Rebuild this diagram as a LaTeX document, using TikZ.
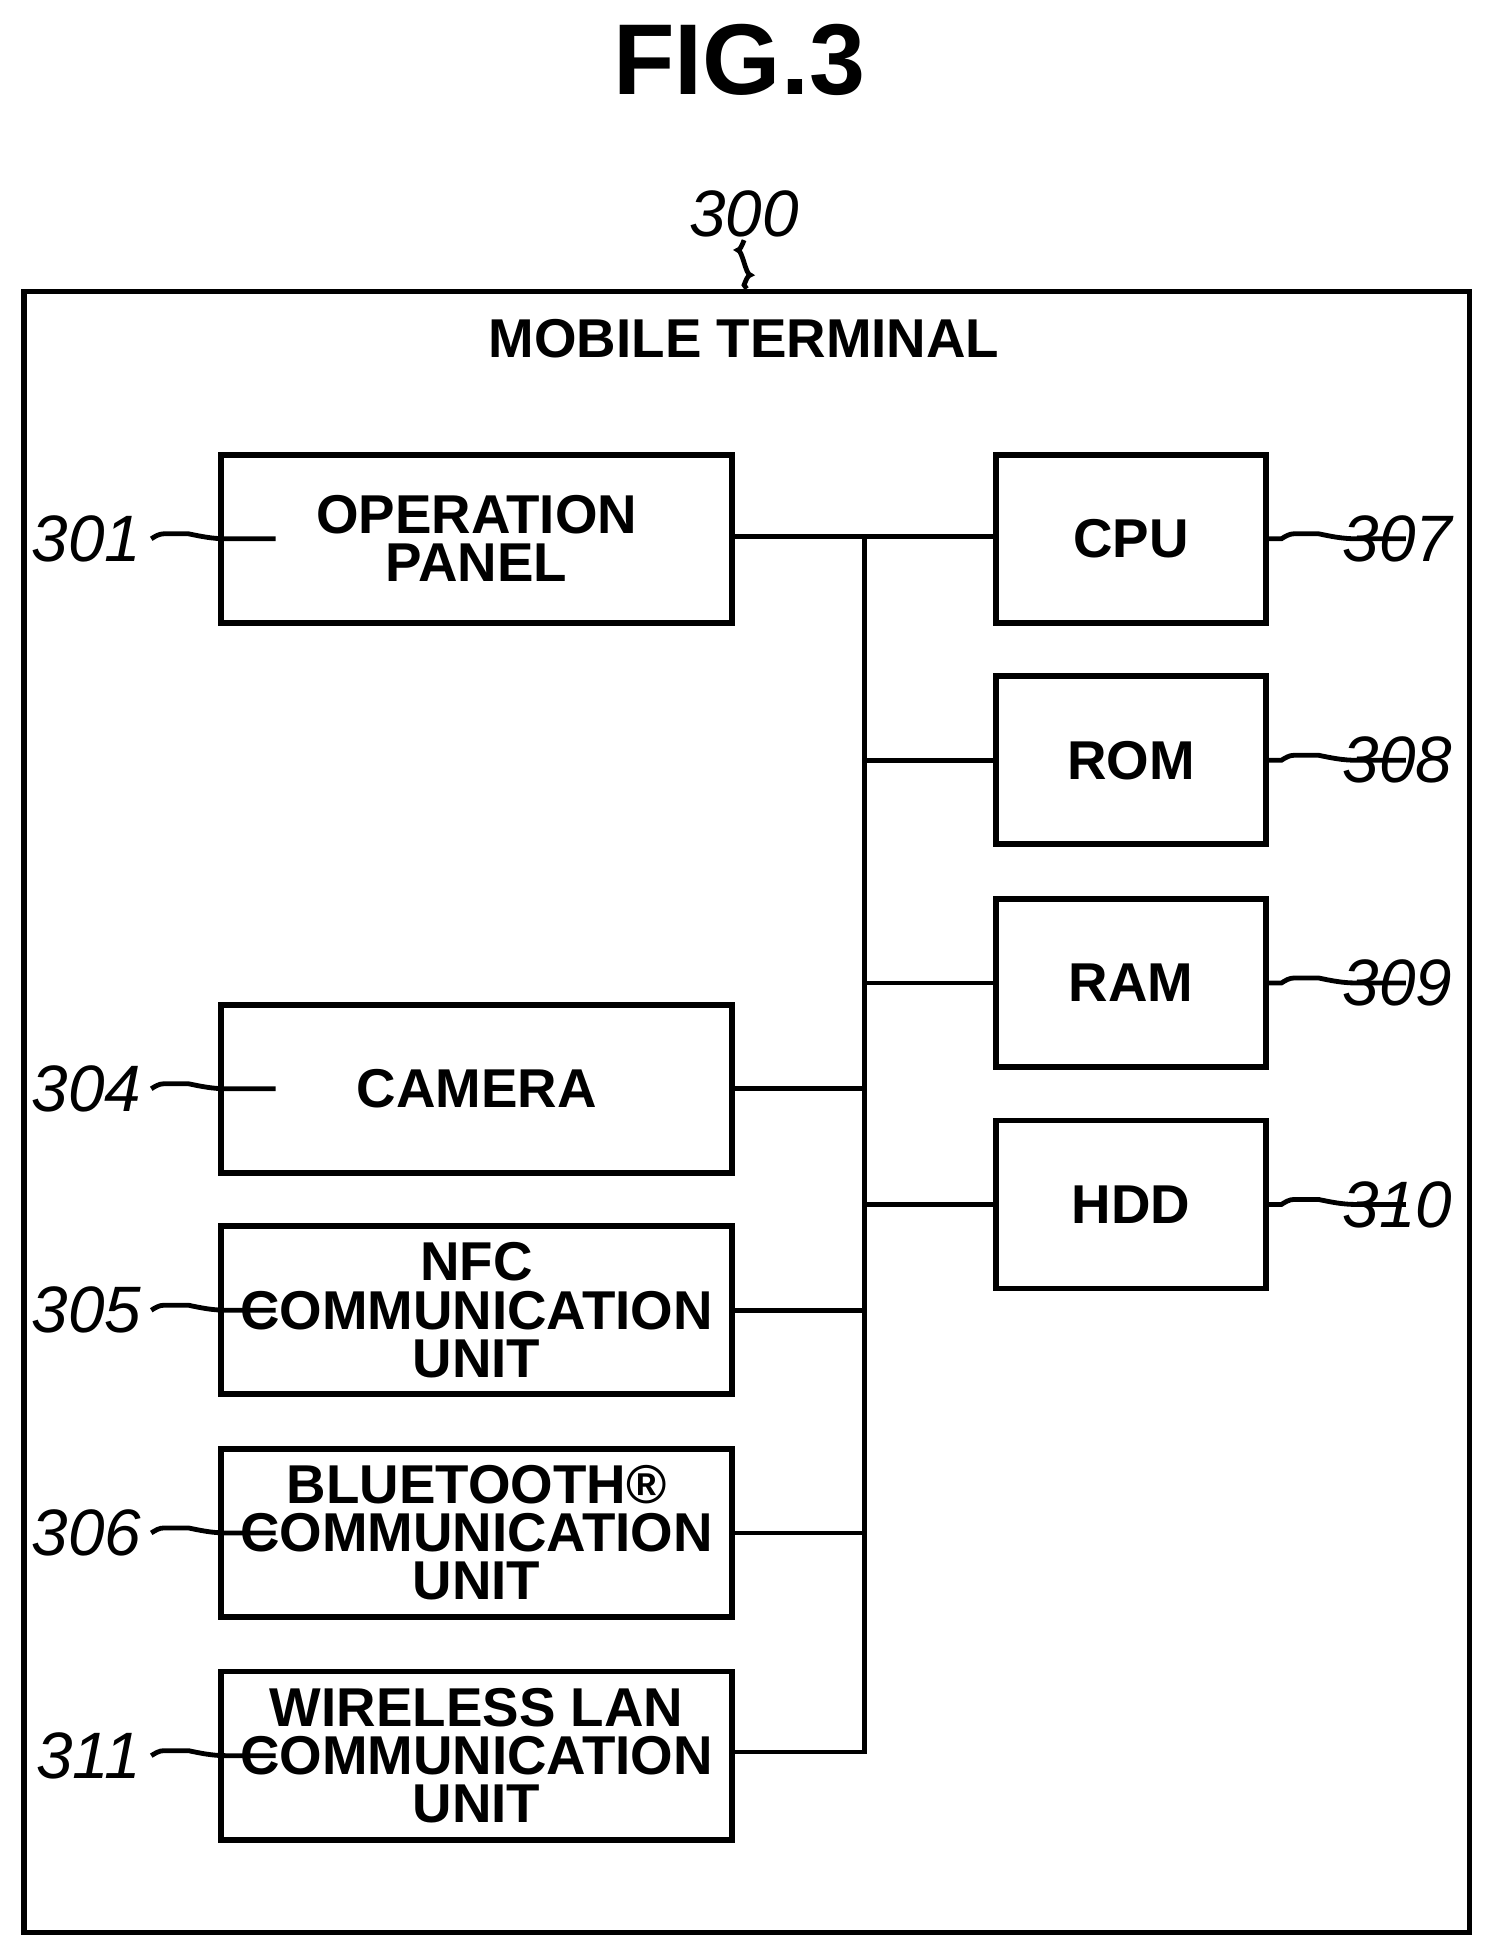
\documentclass[tikz,border=0pt]{standalone}
\usepackage{fontspec}
\setmainfont{Liberation Sans}
\begin{document}
\begin{tikzpicture}[x=0.01cm,y=-0.01cm,
 box/.style={draw,line width=1.3pt,minimum width=4.1cm,minimum height=1.35cm,align=center,font=\fontsize{12.5}{11}\selectfont\bfseries,inner sep=0pt},
 rbox/.style={box,minimum width=2.17cm},
 num/.style={font=\fontsize{15}{15}\selectfont\itshape,inner sep=1pt},
 ln/.style={line width=1.1pt}]
\useasboundingbox (0,0) rectangle (1196,1568);
\node[font=\fontsize{23}{23}\selectfont\bfseries] (fig) at (594,48) {FIG.3};
\node[draw,line width=1.3pt,minimum width=11.61cm,minimum height=13.18cm,anchor=north west] (mt) at (17,232) {};
\node[font=\fontsize{12.5}{13}\selectfont\bfseries] (mtl) at (598,272) {MOBILE TERMINAL};
\node[num] (n300) at (598,172) {300};
\draw[ln] (598,193) sin (593,201) cos (598,211) sin (603,221) cos (598,229) -- (mt.north);
\node[box] (op) at (383,433) {OPERATION\\PANEL};
\node[box] (cam) at (383,875) {CAMERA};
\node[box] (nfc) at (383,1053) {NFC\\COMMUNICATION\\UNIT};
\node[box] (bt) at (383,1232) {BLUETOOTH®\\COMMUNICATION\\UNIT};
\node[box] (wl) at (383,1411) {WIRELESS LAN\\COMMUNICATION\\UNIT};
\node[rbox] (cpu) at (909,433) {CPU};
\node[rbox] (rom) at (909,611) {ROM};
\node[rbox] (ram) at (909,790) {RAM};
\node[rbox] (hdd) at (909,968) {HDD};
\coordinate (bt0) at (695,431);
\coordinate (bb) at (695,1408);
\draw[ln] (op.east |- bt0) -- (cpu.west |- bt0);
\draw[ln] (bt0) -- (bb) -- (wl.east |- bb);
\foreach \n in {rom,ram,hdd}{\draw[ln] (\n.west) -- (695,0 |- \n.west);}
\foreach \n in {cam,nfc,bt}{\draw[ln] (\n.east) -- (695,0 |- \n.east);}
\foreach \n/\t in {op/301,cam/304,nfc/305,bt/306,wl/311}{
 \node[num,anchor=east] (l\t) at ([xshift=-0.58cm]\n.west) {\t};
 \draw[ln] (l\t.east) ++(4,0) sin +(10,-4) cos +(20,0) sin +(30,4) cos +(40,0) -- (\n.west);}
\foreach \n/\t in {cpu/307,rom/308,ram/309,hdd/310}{
 \node[num,anchor=west] (l\t) at ([xshift=0.55cm]\n.east) {\t};
 \draw[ln] (\n.east) -- ++(10,0) sin +(10,-4) cos +(20,0) sin +(30,4) cos +(40,0);}
\end{tikzpicture}
\end{document}
